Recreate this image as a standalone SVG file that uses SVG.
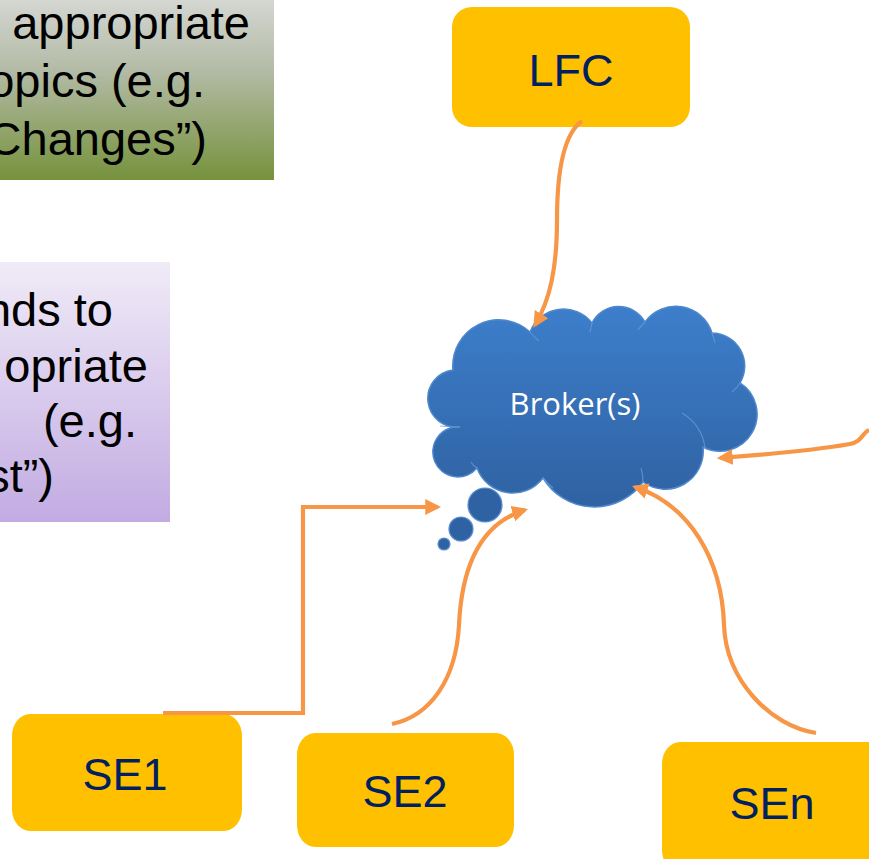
<svg xmlns="http://www.w3.org/2000/svg" width="869" height="859" viewBox="0 0 869 859">
<defs>
<linearGradient id="gGreen" x1="0" y1="0" x2="0" y2="1">
<stop offset="0" stop-color="#dedede"/>
<stop offset="0.45" stop-color="#b3bba6"/>
<stop offset="1" stop-color="#76923c"/>
</linearGradient>
<linearGradient id="gPurple" x1="0" y1="0" x2="0" y2="1">
<stop offset="0" stop-color="#f0ebf7"/>
<stop offset="1" stop-color="#c2abe2"/>
</linearGradient>
<linearGradient id="gCloud" x1="0" y1="0" x2="0" y2="1">
<stop offset="0" stop-color="#3d7ecb"/>
<stop offset="1" stop-color="#2f62a2"/>
</linearGradient>
<marker id="arr" viewBox="0 0 10 10" refX="8" refY="5" markerWidth="3.8" markerHeight="3.8" orient="auto" markerUnits="strokeWidth">
<path d="M0,0 L10,5 L0,10 z" fill="#f79646"/>
</marker>
<style>
.box{fill:#ffc000}
.lbl{font-family:"Liberation Sans",Arial,sans-serif;font-size:45px;fill:#002060;text-anchor:middle}
.note{font-family:"Liberation Sans",Arial,sans-serif;font-size:47px;fill:#000000;text-anchor:end}
.conn{fill:none;stroke:#f79646;stroke-width:4.2}
.bub{fill:#2f62a2;stroke:#5b8fd0;stroke-width:1.2}
</style>
</defs>
<g id="note-green">
<rect x="-20" y="-20" width="294" height="200" fill="url(#gGreen)"/>
<text class="note" x="250" y="39">appropriate</text>
<text class="note" x="205" y="97">opics (e.g.</text>
<text class="note" x="207" y="155">Changes”)</text>
</g>
<g id="note-purple">
<rect x="-20" y="262" width="190" height="260" fill="url(#gPurple)"/>
<text class="note" x="113" y="326">nds to</text>
<text class="note" x="148" y="382">opriate</text>
<text class="note" x="137" y="437">(e.g.</text>
<text class="note" x="54" y="492">st”)</text>
</g>
<g id="broker">
<path d="M 453 370 A 46 46 0 0 1 530 332 A 36 36 0 0 1 592 323 A 30 30 0 0 1 645 322 A 38 38 0 0 1 712 333 A 33 33 0 0 1 740 383 A 37 37 0 0 1 703 447 A 38 38 0 0 1 643 482 A 60 60 0 0 1 543 478 A 38 38 0 0 1 477 468 A 25 25 0 1 1 460 427 A 20 20 0 0 1 453 370 Z" fill="url(#gCloud)" stroke="#4f88cc" stroke-width="1.5"/>
<g fill="none" stroke="#6a9fdc" stroke-width="1.2" opacity="0.7">
<path d="M 530 332 Q 534 337 539 341"/>
<path d="M 592 323 Q 591 328 590 332"/>
<path d="M 645 322 Q 641 326 638 330"/>
<path d="M 712 333 Q 714 338 715 343"/>
<path d="M 740 383 Q 737 388 732 392"/>
<path d="M 682 413 Q 702 425 705 448"/>
<path d="M 643 482 Q 643 475 641 468"/>
<path d="M 543 478 Q 548 484 553 488"/>
<path d="M 477 468 Q 473 466 471 462"/>
<path d="M 440 426 Q 450 427 460 427"/>
</g>
<text x="575" y="415" font-family="'Open Sans',sans-serif" font-size="31" fill="#ffffff" text-anchor="middle">Broker(s)</text>
</g>
<g id="bubbles">
<circle class="bub" cx="485" cy="505" r="17"/>
<circle class="bub" cx="461" cy="529" r="12"/>
<circle class="bub" cx="444" cy="544" r="6"/>
</g>
<g id="LFC">
<rect class="box" x="452" y="7" width="238" height="120" rx="20" ry="20"/>
<text class="lbl" x="571" y="86" font-size="46">LFC</text>
</g>
<g id="SE1">
<rect class="box" x="12" y="714" width="230" height="117" rx="18" ry="22"/>
<text class="lbl" x="125" y="790">SE1</text>
</g>
<g id="SE2">
<rect class="box" x="297" y="733" width="217" height="114" rx="18" ry="22"/>
<text class="lbl" x="405" y="807">SE2</text>
</g>
<g id="SEn">
<rect class="box" x="662" y="742" width="230" height="130" rx="18" ry="22"/>
<text class="lbl" x="772" y="819">SEn</text>
</g>
<g id="connectors">
<path class="conn" d="M 582 121 C 562 135 557 180 557 220 C 557 268 550 300 535 325" marker-end="url(#arr)"/>
<path class="conn" d="M 163 713 L 303 713 L 303 507 L 438 507" marker-end="url(#arr)"/>
<path class="conn" d="M 392 724 C 430 716 456 680 459 625 C 462 560 485 522 525 510" marker-end="url(#arr)"/>
<path class="conn" d="M 816 733 C 770 726 726 680 724 625 C 722 560 690 505 635 487" marker-end="url(#arr)"/>
<path class="conn" d="M 869 430 C 862 433 862 442 850 444 C 810 451 760 455 720 458" marker-end="url(#arr)"/>
</g>
</svg>
